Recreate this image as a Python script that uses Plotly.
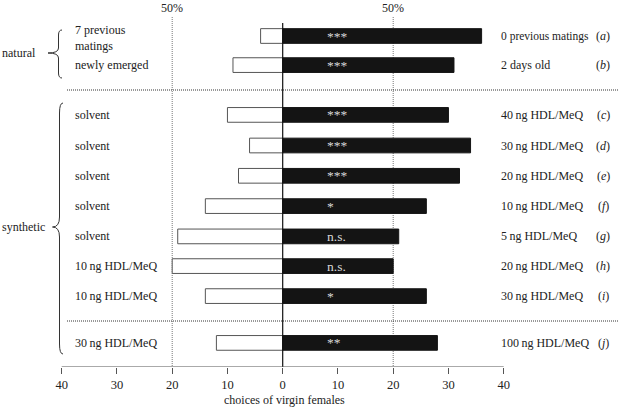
import plotly.graph_objects as go

# ---------------- data ----------------
letters = ["a", "b", "c", "d", "e", "f", "g", "h", "i", "j"]
left_labels = ["7 previous<br>matings", "newly emerged", "solvent", "solvent", "solvent",
               "solvent", "solvent", "10\u2009ng HDL/MeQ", "10\u2009ng HDL/MeQ", "30\u2009ng HDL/MeQ"]
right_labels = ["0 previous matings", "2 days old", "40\u2009ng HDL/MeQ", "30\u2009ng HDL/MeQ",
                "20\u2009ng HDL/MeQ", "10\u2009ng HDL/MeQ", "5\u2009ng HDL/MeQ", "20\u2009ng HDL/MeQ",
                "30\u2009ng HDL/MeQ", "100\u2009ng HDL/MeQ"]
left_values = [4, 9, 10, 6, 8, 14, 19, 20, 14, 12]
right_values = [36, 31, 30, 34, 32, 26, 21, 20, 26, 28]
significance = ["***", "***", "***", "***", "***", "*", "n.s.", "n.s.", "*", "**"]
tick_values = [-40, -30, -20, -10, 0, 10, 20, 30, 40]
tick_labels = ["40", "30", "20", "10", "0", "10", "20", "30", "40"]

# ---------------- layout helpers ----------------
row_pos = [0, 0.97, 2.63, 3.65, 4.66, 5.67, 6.68, 7.67, 8.67, 10.23]
X0, SX = 282.7, 5.525   # pixel of x=0, pixels per unit
Y0, SY = 36.0, 30.0     # pixel of first row, pixels per row unit
W, H, PB = 619, 407, 40
PLOT_H = H - PB


def px(p):
    return (p - X0) / SX


def py(p):
    return (p - Y0) / SY


FONT = "Liberation Serif, Times New Roman, serif"
TXT = "#222"

fig = go.Figure()
fig.add_trace(go.Bar(
    y=row_pos, x=[-v for v in left_values], orientation="h", width=0.49,
    marker=dict(color="white", line=dict(color="#555", width=1)),
    hoverinfo="skip", showlegend=False))
fig.add_trace(go.Bar(
    y=row_pos, x=right_values, orientation="h", width=0.49,
    marker=dict(color="#141414", line=dict(color="#141414", width=1)),
    hoverinfo="skip", showlegend=False))

shapes = []
# vertical reference lines
shapes.append(dict(type="line", xref="x", yref="y", x0=0, x1=0, y0=py(23), y1=py(PLOT_H),
                   line=dict(color="#111", width=1.2), layer="above"))
for xv in (-20, 20):
    shapes.append(dict(type="line", xref="x", yref="y", x0=xv, x1=xv, y0=py(17), y1=py(PLOT_H),
                       line=dict(color="#777", width=1, dash="1px,1px"), layer="below"))
# horizontal dividers
for yp in (90, 321):
    shapes.append(dict(type="line", xref="x", yref="y", x0=px(67), x1=px(619), y0=py(yp), y1=py(yp),
                       line=dict(color="#333", width=1, dash="1px,1px"), layer="below"))
# x axis line
shapes.append(dict(type="line", xref="x", yref="y", x0=-40, x1=40, y0=py(PLOT_H), y1=py(PLOT_H),
                   line=dict(color="#555", width=1)))


def brace(xb, yt, yb, ytip, xtip, r=6):
    pts = [
        f"M {px(xb + 3.5)},{py(yt)}",
        f"Q {px(xb)},{py(yt)} {px(xb)},{py(yt + r)}",
        f"L {px(xb)},{py(ytip - r)}",
        f"Q {px(xb)},{py(ytip)} {px(xtip)},{py(ytip)}",
        f"Q {px(xb)},{py(ytip)} {px(xb)},{py(ytip + r)}",
        f"L {px(xb)},{py(yb - r)}",
        f"Q {px(xb)},{py(yb)} {px(xb + 3.5)},{py(yb)}",
    ]
    return dict(type="path", xref="x", yref="y", path=" ".join(pts),
                line=dict(color="#333", width=1))


shapes.append(brace(58.5, 30, 78, 53, 48, r=5))
shapes.append(brace(59.5, 103, 354, 227, 52.5, r=10))

ann = []
for yp, lab in zip(row_pos, left_labels):
    ann.append(dict(x=px(73), y=yp + (0.08 if "<br>" in lab else 0), xref="x", yref="y", text=lab,
                    showarrow=False, xanchor="left", yanchor="middle", align="left",
                    font=dict(family=FONT, size=12, color=TXT)))
for yp, lab, let in zip(row_pos, right_labels, letters):
    size = 11.5 if lab.startswith("0 previous") else 12
    ann.append(dict(x=px(499), y=yp, xref="x", yref="y", text=lab, showarrow=False,
                    xanchor="left", yanchor="middle", font=dict(family=FONT, size=size, color=TXT)))
    ann.append(dict(x=px(603), y=yp, xref="x", yref="y", text=f"(<i>{let}</i>)", showarrow=False,
                    xanchor="center", yanchor="middle", font=dict(family=FONT, size=12, color=TXT)))
for yp, s in zip(row_pos, significance):
    ann.append(dict(x=px(325), y=yp, xref="x", yref="y", text=s, showarrow=False,
                    xanchor="left", yanchor="middle", font=dict(family=FONT, size=13.5, color="#d8d8d8")))
for xv in (-20, 20):
    ann.append(dict(x=xv, y=py(8), xref="x", yref="y", text="50%", showarrow=False,
                    xanchor="center", yanchor="middle", font=dict(family=FONT, size=12, color=TXT)))
ann.append(dict(x=px(0), y=py(53), xref="x", yref="y", text="natural", showarrow=False,
                xanchor="left", yanchor="middle", font=dict(family=FONT, size=12, color=TXT)))
ann.append(dict(x=px(0), y=py(227), xref="x", yref="y", text="synthetic", showarrow=False,
                xanchor="left", yanchor="middle", font=dict(family=FONT, size=12, color=TXT)))
ann.append(dict(x=px(284), y=(H - 400 - PB) / PLOT_H, xref="x", yref="paper", yanchor="middle",
                text="choices of virgin females", showarrow=False, xanchor="center",
                font=dict(family=FONT, size=12, color=TXT)))

fig.update_layout(
    width=W, height=H, margin=dict(l=0, r=0, t=0, b=PB, pad=0),
    paper_bgcolor="white", plot_bgcolor="white", barmode="overlay",
    shapes=shapes, annotations=ann,
    xaxis=dict(range=[px(0), px(W)], tickvals=tick_values, ticktext=tick_labels,
               ticks="outside", ticklen=6, tickcolor="#555", tickwidth=1,
               showline=False, showgrid=False, zeroline=False, fixedrange=True,
               tickfont=dict(family=FONT, size=12.5, color=TXT)),
    yaxis=dict(range=[py(PLOT_H), py(0)], showticklabels=False, showgrid=False,
               zeroline=False, showline=False, ticks="", fixedrange=True),
)

fig.write_html("out.html", config={"displayModeBar": False},
               post_script="document.body.style.margin='0';document.body.style.padding='0';")
